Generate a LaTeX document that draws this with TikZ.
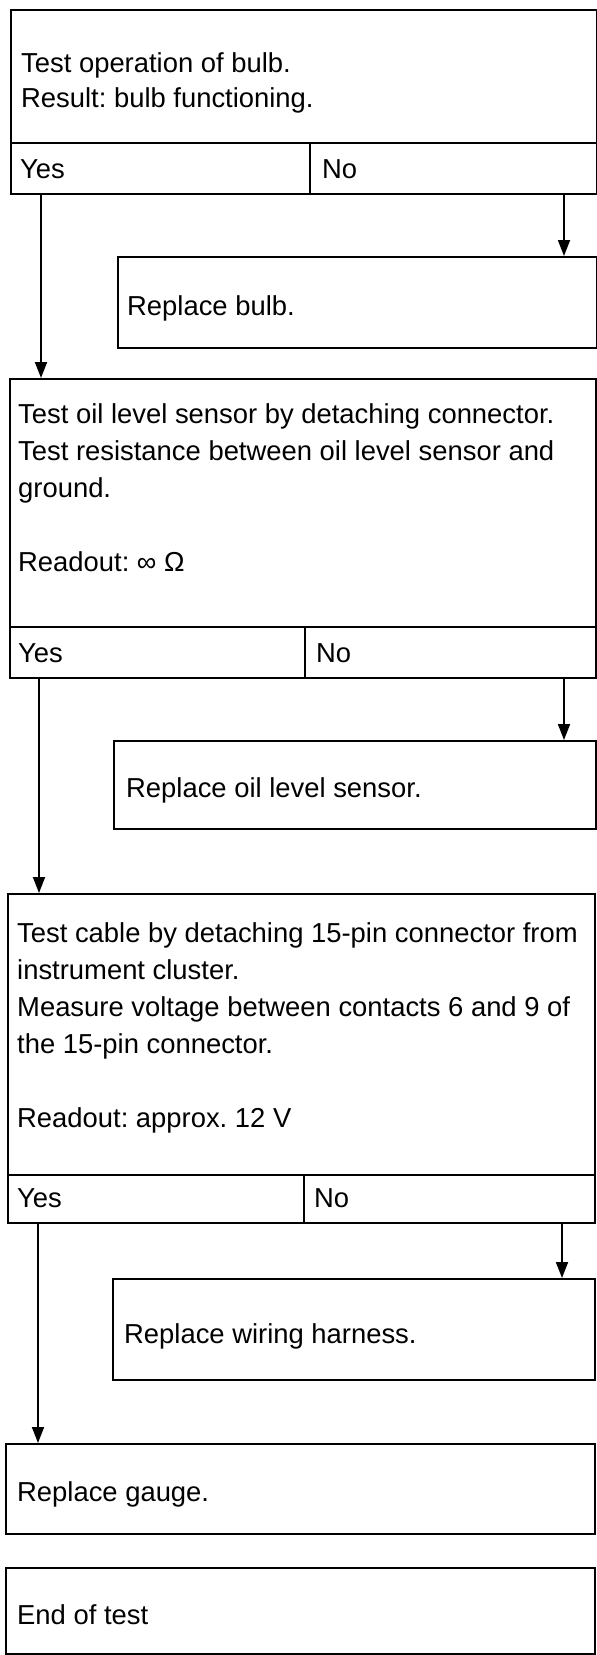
\documentclass[tikz,border=0pt]{standalone}
\usepackage{fontspec}
\setmainfont{Liberation Sans}
\usetikzlibrary{arrows.meta}
\frenchspacing
\begin{document}
\begin{tikzpicture}[x=1pt,y=-1pt,
  box/.style={draw, line width=1.8pt, inner sep=0pt, anchor=north west},
  txt/.style={anchor=base west, inner sep=0pt, font=\fontsize{27.4}{37}\selectfont},
  arr/.style={line width=1.8pt, -{Triangle[length=16pt,width=12pt]}}]
\useasboundingbox (0,0) rectangle (597,1655);
% block 1
\node[box, minimum width=586pt, minimum height=133pt] (b1) at (10,9) {};
\node[box, minimum width=299pt, minimum height=51pt] (yes1) at (10,142) {};
\node[box, minimum width=287pt, minimum height=51pt] (no1) at (309,142) {};
\node[txt] (t1a) at (21,72) {Test operation of bulb.};
\node[txt] (t1b) at (21,107) {Result: bulb functioning.};
\node[txt] (y1) at (20,178) {Yes};
\node[txt] (n1) at (322,178) {No};
\node[box, minimum width=479pt, minimum height=91pt] (rb) at (117,256) {};
\node[txt] (trb) at (127,315) {Replace bulb.};
% block 2
\node[box, minimum width=586pt, minimum height=248pt] (b2) at (9,378) {};
\node[box, minimum width=295pt, minimum height=51pt] (yes2) at (9,626) {};
\node[box, minimum width=291pt, minimum height=51pt] (no2) at (304,626) {};
\node[txt] (t2a) at (18,423) {Test oil level sensor by detaching connector.};
\node[txt] (t2b) at (18,460) {Test resistance between oil level sensor and};
\node[txt] (t2c) at (18,497) {ground.};
\node[txt] (t2d) at (18,571) {Readout: ∞ Ω};
\node[txt] (y2) at (18,662) {Yes};
\node[txt] (n2) at (316,662) {No};
\node[box, minimum width=482pt, minimum height=88pt] (ro) at (113,740) {};
\node[txt] (tro) at (126,797) {Replace oil level sensor.};
% block 3
\node[box, minimum width=587pt, minimum height=281pt] (b3) at (7,893) {};
\node[box, minimum width=296pt, minimum height=48pt] (yes3) at (7,1174) {};
\node[box, minimum width=291pt, minimum height=48pt] (no3) at (303,1174) {};
\node[txt] (t3a) at (17,942) {Test cable by detaching 15-pin connector from};
\node[txt] (t3b) at (17,979) {instrument cluster.};
\node[txt] (t3c) at (17,1016) {Measure voltage between contacts 6 and 9 of};
\node[txt] (t3d) at (17,1053) {the 15-pin connector.};
\node[txt] (t3e) at (17,1127) {Readout: approx. 12 V};
\node[txt] (y3) at (17,1207) {Yes};
\node[txt] (n3) at (314,1207) {No};
\node[box, minimum width=482pt, minimum height=101pt] (rw) at (112,1278) {};
\node[txt] (trw) at (124,1343) {Replace wiring harness.};
% final boxes
\node[box, minimum width=589pt, minimum height=90pt] (g) at (5,1443) {};
\node[txt] (tg) at (17,1501) {Replace gauge.};
\node[box, minimum width=589pt, minimum height=86pt] (e) at (5,1567) {};
\node[txt] (te) at (17,1624) {End of test};
% arrow columns
\coordinate (ya1) at (41,0);
\coordinate (ya2) at (39,0);
\coordinate (ya3) at (38,0);
\coordinate (na1) at (564,0);
\coordinate (na2) at (564,0);
\coordinate (na3) at (562,0);
\draw[arr] (yes1.south -| ya1) -- (b2.north -| ya1);
\draw[arr] (no1.south -| na1) -- (rb.north -| na1);
\draw[arr] (yes2.south -| ya2) -- (b3.north -| ya2);
\draw[arr] (no2.south -| na2) -- (ro.north -| na2);
\draw[arr] (yes3.south -| ya3) -- (g.north -| ya3);
\draw[arr] (no3.south -| na3) -- (rw.north -| na3);
\end{tikzpicture}
\end{document}
